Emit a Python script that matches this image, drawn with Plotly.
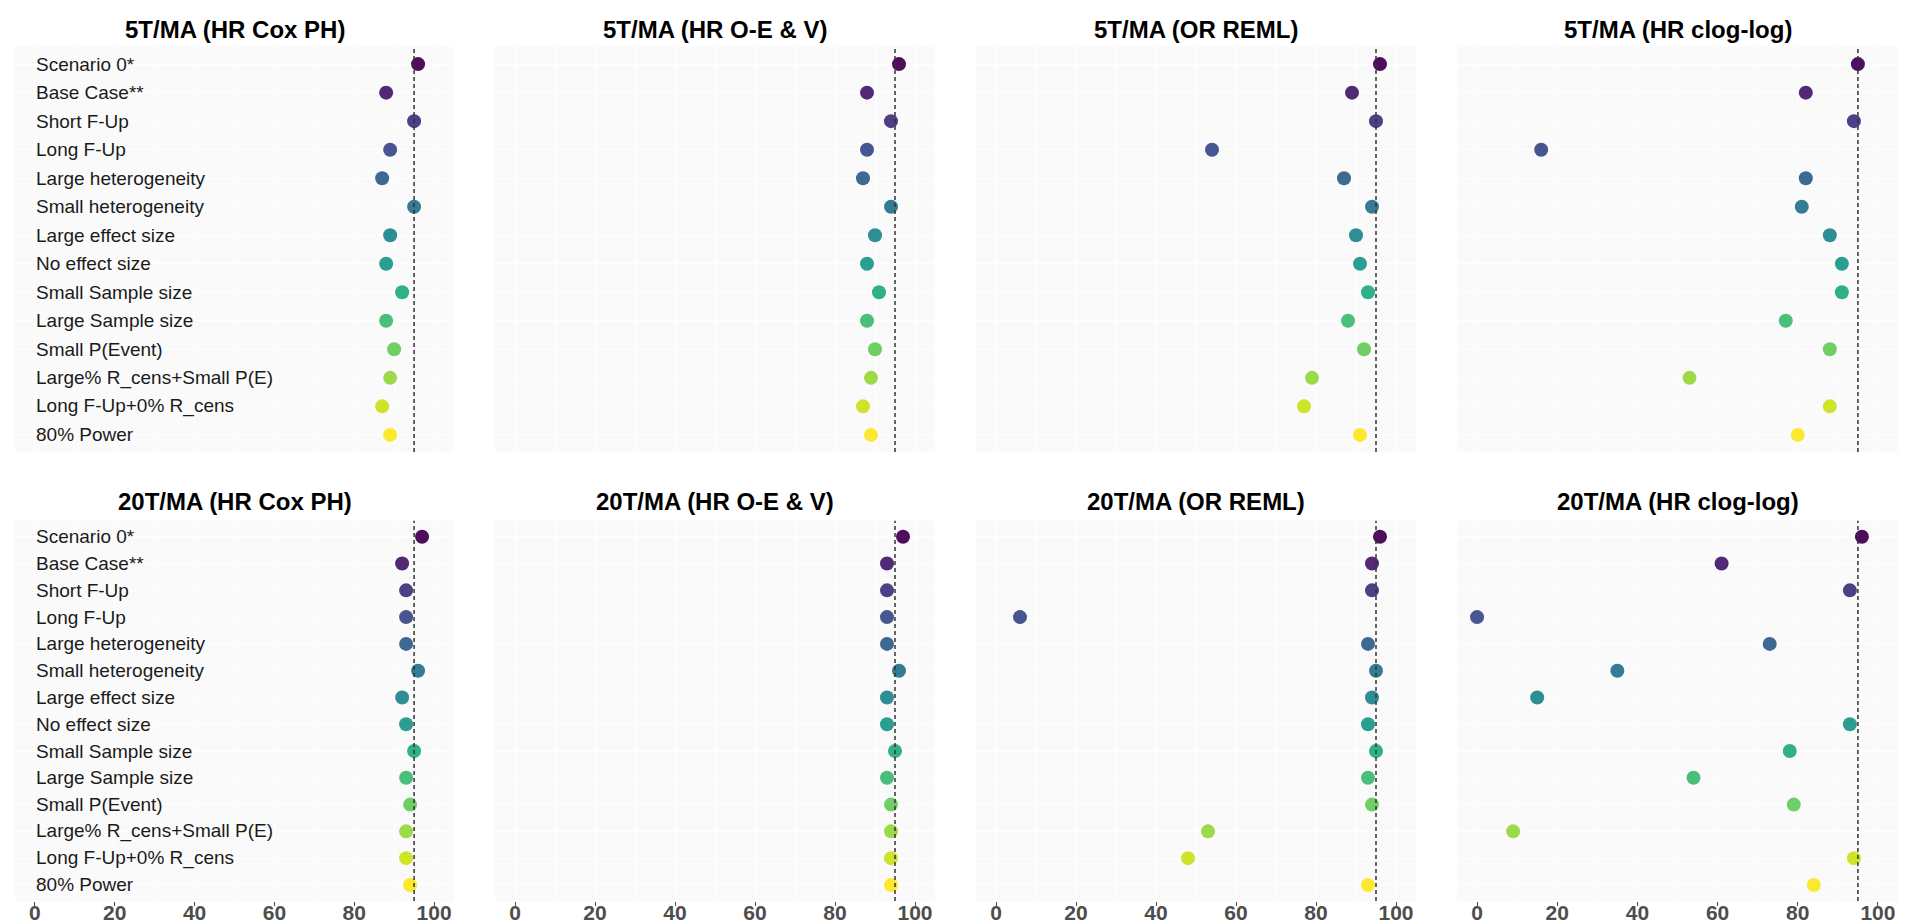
import plotly.graph_objects as go

categories = ["Scenario 0*", "Base Case**", "Short F-Up", "Long F-Up",
              "Large heterogeneity", "Small heterogeneity", "Large effect size",
              "No effect size", "Small Sample size", "Large Sample size",
              "Small P(Event)", "Large% R_cens+Small P(E)", "Long F-Up+0% R_cens",
              "80% Power"]

t5_cox     = [96, 88, 95, 89, 87, 95, 89, 88, 92, 88, 90, 89, 87, 89]
t5_oev     = [96, 88, 94, 88, 87, 94, 90, 88, 91, 88, 90, 89, 87, 89]
t5_reml    = [96, 89, 95, 54, 87, 94, 90, 91, 93, 88, 92, 79, 77, 91]
t5_cloglog = [95, 82, 94, 16, 82, 81, 88, 91, 91, 77, 88, 53, 88, 80]
t20_cox     = [97, 92, 93, 93, 93, 96, 92, 93, 95, 93, 94, 93, 93, 94]
t20_oev     = [97, 93, 93, 93, 93, 96, 93, 93, 95, 93, 94, 94, 94, 94]
t20_reml    = [96, 94, 94, 6, 93, 95, 94, 93, 95, 93, 94, 53, 48, 93]
t20_cloglog = [96, 61, 93, 0, 73, 35, 15, 93, 78, 54, 79, 9, 94, 84]

titles = ["5T/MA (HR Cox PH)", "5T/MA (HR O-E & V)", "5T/MA (OR REML)", "5T/MA (HR clog-log)",
          "20T/MA (HR Cox PH)", "20T/MA (HR O-E & V)", "20T/MA (OR REML)", "20T/MA (HR clog-log)"]
x_ticks = [0, 20, 40, 60, 80, 100]
target = 95

panels = [t5_cox, t5_oev, t5_reml, t5_cloglog, t20_cox, t20_oev, t20_reml, t20_cloglog]

viridis14 = ["#440154", "#481D6F", "#453581", "#3D4D8A", "#34618D", "#2B748E", "#24878E",
             "#1F998A", "#25AC82", "#40BC72", "#67CC5C", "#97D83F", "#CBE11E", "#FDE725"]

W, H = 1907, 923
col_px = [(7, 446), (487, 927), (968, 1408), (1449, 1890)]
row_px = [(39, 444), (512.7, 893)]
title_py = [21, 494]

fig = go.Figure()
layout = dict(width=W, height=H, margin=dict(l=0, r=0, t=0, b=0),
              paper_bgcolor="white", plot_bgcolor="#FAFAFA", showlegend=False,
              font=dict(family="Liberation Sans, Arial, sans-serif"))
annotations = []
shapes = []
n = len(categories)

for i, vals in enumerate(panels):
    r, c = divmod(i, 4)
    k = i + 1
    xa = "x" if k == 1 else f"x{k}"
    ya = "y" if k == 1 else f"y{k}"
    xkey = "xaxis" if k == 1 else f"xaxis{k}"
    ykey = "yaxis" if k == 1 else f"yaxis{k}"
    x0, x1 = col_px[c]
    y0, y1 = row_px[r]
    layout[xkey] = dict(domain=[x0 / W, x1 / W], anchor=ya, range=[-5, 105],
                        tickvals=x_ticks, showticklabels=(r == 1),
                        ticks="outside" if r == 1 else "", ticklen=4, tickcolor="#4D4D4D",
                        ticklabelstandoff=-11,
                        tickfont=dict(size=21, color="#4D4D4D",
                                      family="Liberation Sans, Arial, sans-serif", weight="bold"),
                        showgrid=True, gridcolor="white", gridwidth=1,
                        minor=dict(dtick=10, showgrid=True, gridcolor="white", gridwidth=1),
                        zeroline=False, showline=False, fixedrange=True)
    layout[ykey] = dict(domain=[1 - y1 / H, 1 - y0 / H], anchor=xa, type="category",
                        categoryorder="array", categoryarray=categories,
                        range=[n - 1 + 0.6, -0.6], showticklabels=False, ticks="",
                        showgrid=True, gridcolor="white", gridwidth=1,
                        zeroline=False, showline=False, fixedrange=True)
    fig.add_trace(go.Scatter(x=vals, y=categories, mode="markers", xaxis=xa, yaxis=ya,
                             marker=dict(size=14, color=viridis14, opacity=0.95,
                                         line=dict(width=0)),
                             hoverinfo="x+y"))
    shapes.append(dict(type="line", xref=xa, yref=f"{ya} domain", x0=target, x1=target,
                       y0=0, y1=1, line=dict(color="#333333", width=1.5, dash="4px,3px"),
                       layer="above"))
    annotations.append(dict(text=f"<b>{titles[i]}</b>", xref="paper", yref="paper",
                            x=(x0 + x1) / 2 / W, y=1 - title_py[r] / H,
                            xanchor="center", yanchor="middle", showarrow=False,
                            font=dict(size=24, color="black")))
    if c == 0:
        for cat in categories:
            annotations.append(dict(text=cat, xref=xa, yref=ya, x=0, y=cat,
                                    xanchor="left", yanchor="middle", showarrow=False,
                                    borderpad=0, font=dict(size=19, color="#1A1A1A")))

layout["annotations"] = annotations
layout["shapes"] = shapes
fig.update_layout(**layout)
fig.write_html("out.html")
